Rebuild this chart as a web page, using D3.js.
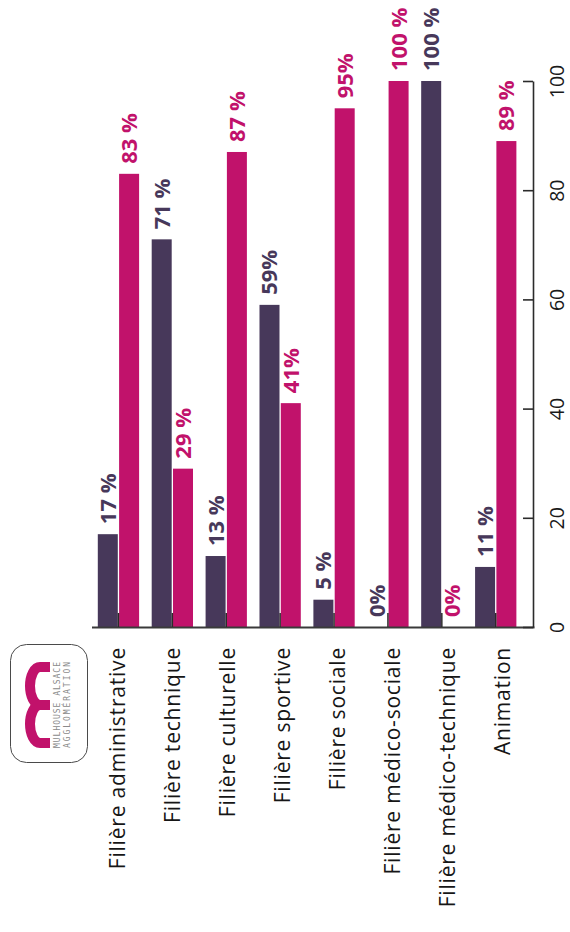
<!DOCTYPE html>
<html lang="fr">
<head>
<meta charset="utf-8">
<script src="https://cdn.jsdelivr.net/npm/d3@7"></script>
<style>
  html, body { margin: 0; padding: 0; background: #fff; }
  svg { display: block; }
  text { font-family: "Open Sans", "DejaVu Sans", sans-serif; }
</style>
</head>
<body>
<svg id="chart" width="570" height="932"></svg>
<script>
// Répartition par filière (en %)
const categories = [
  "Filière administrative",
  "Filière technique",
  "Filière culturelle",
  "Filière sportive",
  "Filière sociale",
  "Filière médico-sociale",
  "Filière médico-technique",
  "Animation"
];
const seriesDark = [17, 71, 13, 59, 5, 0, 100, 11];
const seriesPink = [83, 29, 87, 41, 95, 100, 0, 89];
const labelsDark = ["17 %", "71 %", "13 %", "59%", "5 %", "0%", "100 %", "11 %"];
const labelsPink = ["83 %", "29 %", "87 %", "41%", "95%", "100 %", "0%", "89 %"];
const valueTicks = [0, 20, 40, 60, 80, 100];

const colDark = "#47385a";
const colPink = "#c1126b";
const axisCol = "#2b2b2b";

const svg = d3.select("#chart");

// Rotated layout: categories run left to right, values grow upwards
const x = d3.scaleBand()
  .domain(categories)
  .range([91.5, 534])
  .paddingInner(0)
  .paddingOuter(0.105)
  .align(0);

const labelX = d3.scalePoint()
  .domain(categories)
  .range([117.5, 502.5]);

const y = d3.scaleLinear().domain([0, 100]).range([627, 81]);

const barW = 20, halfGap = 0.65;
const center = c => x(c) + x.bandwidth() / 2;

const rows = categories.map((c, i) => ({
  cat: c,
  dark: seriesDark[i], pink: seriesPink[i],
  ld: labelsDark[i], lp: labelsPink[i]
}));

// Bars
const gBars = svg.append("g");
gBars.selectAll("rect.dark").data(rows).join("rect")
  .attr("class", "dark")
  .attr("x", d => center(d.cat) - halfGap - barW)
  .attr("width", barW)
  .attr("y", d => y(d.dark))
  .attr("height", d => y(0) - y(d.dark))
  .attr("fill", colDark);
gBars.selectAll("rect.pink").data(rows).join("rect")
  .attr("class", "pink")
  .attr("x", d => center(d.cat) + halfGap)
  .attr("width", barW)
  .attr("y", d => y(d.pink))
  .attr("height", d => y(0) - y(d.pink))
  .attr("fill", colPink);

// Value labels above each bar
const labelGap = 10;
function valueLabels(cls, key, lab, dx, color) {
  svg.append("g").selectAll("text").data(rows).join("text")
    .attr("class", cls)
    .attr("transform", d => `translate(${center(d.cat) + dx},${y(d[key]) - labelGap}) rotate(-90)`)
    .attr("text-anchor", "start")
    .attr("dy", "0.36em")
    .attr("fill", color)
    .style("font-size", "22px")
    .style("font-weight", 700)
    .text(d => d[lab]);
}
valueLabels("vl-dark", "dark", "ld", -halfGap - barW / 2, colDark);
valueLabels("vl-pink", "pink", "lp", halfGap + barW / 2, colPink);

// Category axis (baseline with short ticks between each pair of bars)
const xAxis = svg.append("g")
  .attr("transform", `translate(0,${y(0)})`)
  .call(d3.axisBottom(x).tickSizeInner(-14).tickSizeOuter(0).tickFormat(""));
xAxis.select(".domain").attr("stroke", "#3a3a3a").attr("stroke-width", 2.2);
xAxis.selectAll(".tick line").attr("stroke", axisCol).attr("stroke-width", 1.5);

// Category names, read bottom to top
svg.append("g").selectAll("text").data(categories).join("text")
  .attr("transform", d => `translate(${labelX(d)},647) rotate(-90)`)
  .attr("text-anchor", "end")
  .attr("dy", "0.36em")
  .attr("fill", "#161616")
  .style("font-size", "21px")
  .style("letter-spacing", "0.8px")
  .text(d => d);

// Value axis on the right
const yAxis = svg.append("g")
  .attr("transform", "translate(533,0)")
  .call(d3.axisRight(y).tickValues(valueTicks).tickSizeInner(-10).tickSizeOuter(0));
yAxis.select(".domain").attr("stroke", axisCol).attr("stroke-width", 1.6);
yAxis.selectAll(".tick line").attr("stroke", axisCol).attr("stroke-width", 1.6);
yAxis.selectAll(".tick text")
  .attr("x", null).attr("dy", null)
  .attr("transform", "translate(31,0) rotate(-90)")
  .attr("text-anchor", "middle")
  .attr("fill", "#1a1a1a")
  .style("font-size", "19.5px")
  .style("font-family", "'Open Sans', sans-serif");

// Logo block
const logo = svg.append("g");
logo.append("rect")
  .attr("x", 10.5).attr("y", 644.5)
  .attr("width", 77).attr("height", 118)
  .attr("rx", 16).attr("ry", 16)
  .attr("fill", "none").attr("stroke", "#4a4a4a").attr("stroke-width", 1);
logo.append("path")
  .attr("transform", "translate(25,748) rotate(-90)")
  .attr("d", "M5 25V15A19 10 0 0 1 43 15V25M43 15A19 10 0 0 1 81 15V25")
  .attr("fill", "none").attr("stroke", colPink).attr("stroke-width", 10);
[["MULHOUSE ALSACE", 60], ["AGGLOMÉRATION", 70]].forEach(([t, lx]) => {
  logo.append("text")
    .attr("transform", `translate(${lx},748) rotate(-90)`)
    .attr("text-anchor", "start")
    .attr("textLength", 86)
    .attr("lengthAdjust", "spacing")
    .attr("fill", "#8a8a8a")
    .style("font-family", "'DejaVu Sans Mono', monospace")
    .style("font-size", "8px")
    .text(t);
});
</script>
</body>
</html>
